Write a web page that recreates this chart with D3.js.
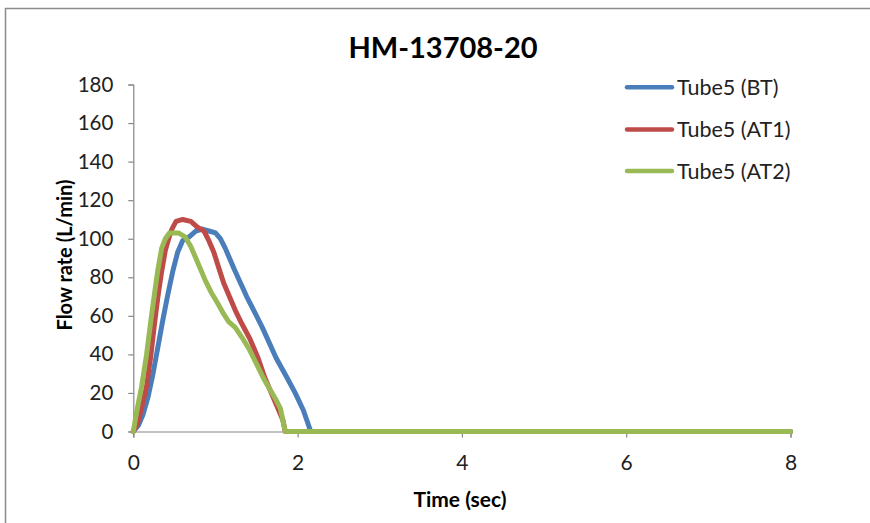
<!DOCTYPE html>
<html>
<head>
<meta charset="utf-8">
<script src="https://cdn.jsdelivr.net/npm/d3@7"></script>
<style>
  html, body { margin: 0; padding: 0; background: #fff; }
  svg { display: block; font-family: Lato, "Open Sans", sans-serif; }
</style>
</head>
<body>
<svg id="chart" width="870" height="523"></svg>
<script>
// ---- Data ----
const chartTitle = "HM-13708-20";
const xAxisTitle = "Time (sec)";
const yAxisTitle = "Flow rate (L/min)";
const xTicks = [0, 2, 4, 6, 8];
const yTicks = [0, 20, 40, 60, 80, 100, 120, 140, 160, 180];
const seriesNames = ["Tube5 (BT)", "Tube5 (AT1)", "Tube5 (AT2)"];
const seriesColors = ["#4A7EBB", "#BE4B48", "#98B954"];

const timeBT = [0, 0.06, 0.12, 0.18, 0.24, 0.3, 0.36, 0.42, 0.48, 0.54, 0.6, 0.68, 0.76, 0.84, 0.92, 1.0, 1.06, 1.12, 1.23, 1.38, 1.5, 1.57, 1.74, 1.87, 1.97, 2.07, 2.16, 8];
const flowBT = [0, 3, 9, 18, 30, 44, 58, 71, 83, 93, 99, 101, 104, 105, 104, 103, 100, 95, 84, 70, 60, 54, 38, 28, 20, 11, 0, 0];

const timeAT1 = [0, 0.05, 0.1, 0.16, 0.215, 0.264, 0.3, 0.345, 0.39, 0.43, 0.47, 0.52, 0.6, 0.7, 0.78, 0.86, 0.92, 0.98, 1.04, 1.1, 1.17, 1.24, 1.32, 1.42, 1.52, 1.6, 1.68, 1.76, 1.82, 1.85, 8];
const flowAT1 = [0, 4, 12, 23, 40, 58, 70, 83, 94, 100, 105, 109, 110, 109, 106, 104, 99, 93, 85, 77, 70, 63, 56, 48, 38, 28, 20, 12, 6, 0, 0];

const timeAT2 = [0, 0.02, 0.04, 0.1, 0.162, 0.215, 0.26, 0.296, 0.345, 0.39, 0.44, 0.55, 0.63, 0.7, 0.76, 0.82, 0.88, 0.95, 1.02, 1.1, 1.16, 1.24, 1.32, 1.42, 1.5, 1.58, 1.66, 1.73, 1.79, 1.85, 8];
const flowAT2 = [0, 5, 10, 23, 40, 58, 72, 83, 95, 100, 103, 103, 101, 96, 90, 84, 78, 72, 67, 61, 57, 54, 49, 42, 35, 28, 22, 17, 12, 0, 0];

const seriesTimes = [timeBT, timeAT1, timeAT2];
const seriesFlows = [flowBT, flowAT1, flowAT2];

// ---- Layout ----
const svg = d3.select("#chart");
const axisColor = "#868686";
const x = d3.scaleLinear().domain([0, 8]).range([133.3, 790.5]);
const y = d3.scaleLinear().domain([0, 180]).range([431.5, 84.5]);

// outer chart border
svg.append("rect")
  .attr("x", 5.5).attr("y", 8.5)
  .attr("width", 880).attr("height", 530)
  .attr("fill", "#fff")
  .attr("stroke", "#8c8c8c").attr("stroke-width", 1.5);

// title
svg.append("text")
  .attr("x", 443).attr("y", 58.3)
  .attr("text-anchor", "middle")
  .attr("font-size", 29).attr("font-weight", "bold")
  .attr("fill", "#000")
  .text(chartTitle);

// Y axis
const yAxis = d3.axisLeft(y).tickValues(yTicks).tickSize(5).tickPadding(15);
const gy = svg.append("g").attr("transform", `translate(${x(0)},0)`).call(yAxis);
gy.select(".domain").attr("stroke", axisColor).attr("stroke-width", 1.2);
gy.selectAll(".tick line").attr("stroke", axisColor).attr("stroke-width", 1.2);
gy.selectAll(".tick text").attr("font-size", 20.5).attr("fill", "#222")
  .attr("font-family", "Lato, sans-serif");

// X axis
const xAxis = d3.axisBottom(x).tickValues(xTicks).tickSize(6).tickPadding(18);
const gx = svg.append("g").attr("transform", `translate(0,${y(0)})`).call(xAxis);
gx.select(".domain").attr("stroke", axisColor).attr("stroke-width", 1.2);
gx.selectAll(".tick line").attr("stroke", axisColor).attr("stroke-width", 1.2);
gx.selectAll(".tick text").attr("font-size", 21).attr("fill", "#222")
  .attr("font-family", "Lato, sans-serif");

// axis titles
svg.append("text")
  .attr("x", 460).attr("y", 507.3)
  .attr("text-anchor", "middle")
  .attr("font-size", 21).attr("font-weight", "bold").attr("fill", "#000")
  .text(xAxisTitle);

svg.append("text")
  .attr("transform", "translate(72,255) rotate(-90)")
  .attr("text-anchor", "middle")
  .attr("font-size", 20).attr("font-weight", "bold").attr("fill", "#000")
  .text(yAxisTitle);

// lines
const line = d3.line().x(d => x(d[0])).y(d => y(d[1]));
seriesNames.forEach((name, i) => {
  const pts = seriesTimes[i].map((t, j) => [t, seriesFlows[i][j]]);
  svg.append("path")
    .datum(pts)
    .attr("d", line)
    .attr("fill", "none")
    .attr("stroke", seriesColors[i])
    .attr("stroke-width", 5)
    .attr("stroke-linejoin", "round")
    .attr("stroke-linecap", "round");
});

// legend
const legendY = [87.3, 129.5, 171];
seriesNames.forEach((name, i) => {
  const g = svg.append("g");
  g.append("line")
    .attr("x1", 627).attr("x2", 672)
    .attr("y1", legendY[i]).attr("y2", legendY[i])
    .attr("stroke", seriesColors[i]).attr("stroke-width", 4.5)
    .attr("stroke-linecap", "round");
  g.append("text")
    .attr("x", 677).attr("y", legendY[i] + 7.5)
    .attr("font-size", 21.5).attr("fill", "#222")
    .text(name);
});
</script>
</body>
</html>
